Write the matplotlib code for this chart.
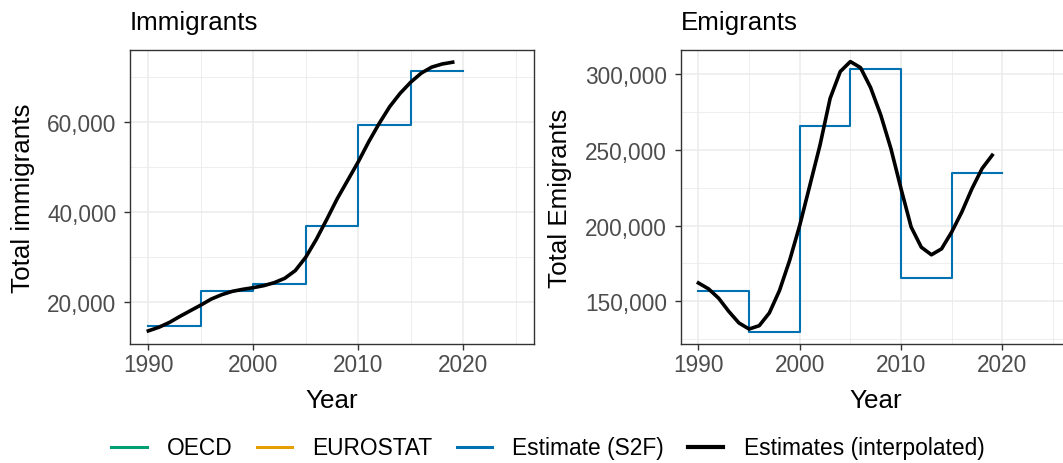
import matplotlib
matplotlib.use('Agg')
import matplotlib.pyplot as plt
import matplotlib.ticker as mticker
from matplotlib.lines import Line2D

plt.rcParams['font.family'] = ['Liberation Sans', 'DejaVu Sans']

# ── Data ─────────────────────────────────────────────────────────────────────
STEP_YEARS = [1990, 1995, 2000, 2005, 2010, 2015, 2020]
IMM_STEP = [14650, 22450, 23950, 36950, 59470, 71370]
EMI_STEP = [157060, 129930, 265800, 303300, 165200, 234900]

INTERP_YEARS = list(range(1990, 2020))
IMM_INTERP = [13500, 14300, 15370, 16720, 17990, 19250, 20600, 21570, 22310, 22760,
              23130, 23580, 24250, 25220, 26940, 29920, 33880, 38350, 42980, 47080,
              51180, 55660, 59760, 63490, 66480, 68940, 70950, 72300, 73000, 73400]
EMI_INTERP = [162100, 158200, 152000, 143300, 135700, 131700, 133900, 142300, 157100, 176900,
              200100, 226500, 253000, 283900, 301600, 308200, 304200, 291000, 272900, 250800,
              224300, 199000, 185700, 180700, 184600, 195700, 208900, 224300, 237600, 246400]

# OECD / EUROSTAT series have no visible values in this view
OECD_YEARS, OECD_VALS = [], []
EURO_YEARS, EURO_VALS = [], []

SERIES_NAMES = ["OECD", "EUROSTAT", "Estimate (S2F)", "Estimates (interpolated)"]
SERIES_COLORS = ["#009E73", "#E69F00", "#0072B2", "black"]

X_TICKS = [1990, 2000, 2010, 2020]

# ── Figure ───────────────────────────────────────────────────────────────────
W, H = 1063, 464
fig = plt.figure(figsize=(W / 100, H / 100), dpi=100)
fig.patch.set_facecolor("white")

ax1 = fig.add_axes([130 / W, 1 - 345 / H, 404 / W, 294 / H])
ax2 = fig.add_axes([680.7 / W, 1 - 345 / H, 390 / W, 294 / H])

GRID = "#EBEBEB"
DARK = "#333333"


def style_axis(ax):
    ax.set_facecolor("white")
    for sp in ax.spines.values():
        sp.set_color(DARK)
        sp.set_linewidth(1.0)
    ax.grid(which="major", color=GRID, lw=1.1, zorder=0)
    ax.grid(which="minor", color=GRID, lw=0.6, zorder=0)
    ax.set_axisbelow(True)
    ax.tick_params(which="major", direction="out", length=4.3, width=1.0,
                   color=DARK, labelcolor="#4D4D4D", labelsize=16.3)
    ax.tick_params(axis="x", pad=2.5)
    ax.tick_params(axis="y", pad=5.5)
    ax.tick_params(which="minor", length=0)
    ax.set_xlim(1988.25, 2026.75)
    ax.xaxis.set_major_locator(mticker.FixedLocator(X_TICKS))
    ax.xaxis.set_minor_locator(mticker.MultipleLocator(5))
    ax.yaxis.set_major_formatter(mticker.FuncFormatter(lambda v, _: f"{int(v):,}"))
    ax.set_xlabel("Year", fontsize=18.7)
    ax.xaxis.set_label_coords(0.5, -0.214)
    ax.xaxis.label.set_va("baseline")


def draw(ax, step_vals, interp_vals):
    ax.plot(OECD_YEARS, OECD_VALS, color=SERIES_COLORS[0])
    ax.plot(EURO_YEARS, EURO_VALS, color=SERIES_COLORS[1])
    ax.step(STEP_YEARS, step_vals + [step_vals[-1]], where="post",
            color=SERIES_COLORS[2], lw=1.5, zorder=3)
    ax.plot(INTERP_YEARS, interp_vals, color=SERIES_COLORS[3], lw=2.6,
            solid_joinstyle="round", zorder=4)


# Immigrants
style_axis(ax1)
draw(ax1, IMM_STEP, IMM_INTERP)
ax1.set_ylim(10570, 76120)
ax1.yaxis.set_major_locator(mticker.MultipleLocator(20000))
ax1.yaxis.set_minor_locator(mticker.MultipleLocator(10000))
ax1.set_ylabel("Total immigrants", fontsize=18.7)
ax1.yaxis.set_label_coords(-0.266, 0.5)
ax1.yaxis.label.set_va("center")
ax1.text(0, 1.0714, "Immigrants", transform=ax1.transAxes, fontsize=18.7,
         ha="left", va="baseline")

# Emigrants
style_axis(ax2)
draw(ax2, EMI_STEP, EMI_INTERP)
ax2.set_ylim(121820, 315840)
ax2.yaxis.set_major_locator(mticker.MultipleLocator(50000))
ax2.yaxis.set_minor_locator(mticker.MultipleLocator(25000))
ax2.set_ylabel("Total Emigrants", fontsize=18.7)
ax2.yaxis.set_label_coords(-0.3095, 0.5)
ax2.yaxis.label.set_va("center")
ax2.text(0, 1.0714, "Emigrants", transform=ax2.transAxes, fontsize=18.7,
         ha="left", va="baseline")

# ── Legend ───────────────────────────────────────────────────────────────────
handles = [Line2D([], [], color=c, lw=(3.0 if c == "black" else 2.2))
           for c in SERIES_COLORS]
fig.legend(handles, SERIES_NAMES, loc="center", ncol=4, frameon=False,
           bbox_to_anchor=(548 / W, 1 - 449 / H), fontsize=16.4,
           handlelength=1.55, handletextpad=0.9, columnspacing=1.05)

fig.savefig("out.png", dpi=100, facecolor="white")
